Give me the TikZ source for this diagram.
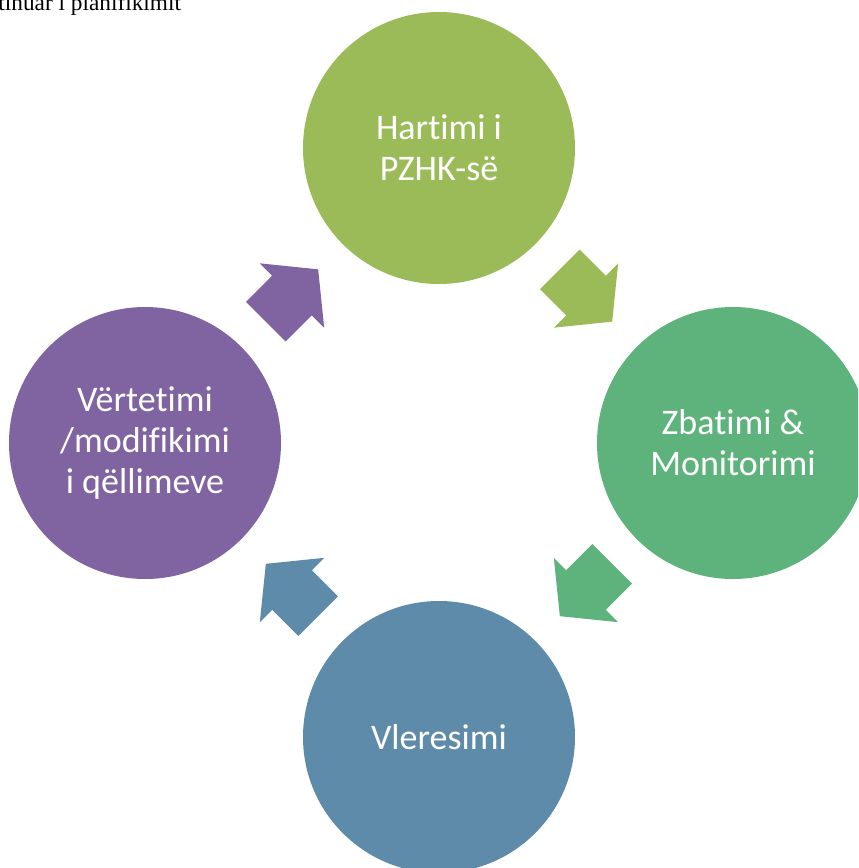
\documentclass[tikz,border=0pt]{standalone}
\usepackage{fontspec}
\setmainfont{Carlito}[Ligatures=NoCommon]
\newfontfamily\headserif{Liberation Serif}
\usepackage{tikz}
\usetikzlibrary{calc}

\definecolor{hartColor}{RGB}{155,187,89}
\definecolor{zbatColor}{RGB}{94,179,124}
\definecolor{vlerColor}{RGB}{94,139,170}
\definecolor{vertColor}{RGB}{128,100,162}

\begin{document}
\begin{tikzpicture}[x=0.5pt, y=-0.5pt,
    stage/.style={circle, minimum size=136pt, inner sep=0pt, text=white, align=center,
        font=\fontsize{18}{20.5}\selectfont},
    pics/cyclearrow/.style={code={
        \fill[#1] (-37,-28) -- (0,-28) -- (0,-45.5) -- (37,0) -- (0,45.5) -- (0,28) -- (-37,28) -- cycle;
    }}]
    \clip (0,0) rectangle (858,868);

    \node[font=\headserif\fontsize{11.65}{14}\selectfont, anchor=base east] (title) at (188,10.5) {kontinuar i planifikimit};

    \node[stage, fill=hartColor] (hartimi) at (439,148) {Hartimi i\\PZHK-së};
    \node[stage, fill=zbatColor] (zbatimi) at (733,443) {Zbatimi \&\\Monitorimi};
    \node[stage, fill=vlerColor] (vleresimi) at (439,737) {Vleresimi};
    \node[stage, fill=vertColor] (vertetimi) at (145,443) {Vërtetimi\\/modifikimi\\i qëllimeve};

    % block arrows between the stages
    \pic[rotate=-45] at ($(hartimi)!0.5!(zbatimi)$) {cyclearrow=hartColor};
    \pic[rotate=-135] at ($(zbatimi)!0.5!(vleresimi)$) {cyclearrow=zbatColor};
    \pic[rotate=135] at ($(vleresimi)!0.5!(vertetimi)$) {cyclearrow=vlerColor};
    \pic[rotate=45] at ($(vertetimi)!0.5!(hartimi)$) {cyclearrow=vertColor};
\end{tikzpicture}
\end{document}
